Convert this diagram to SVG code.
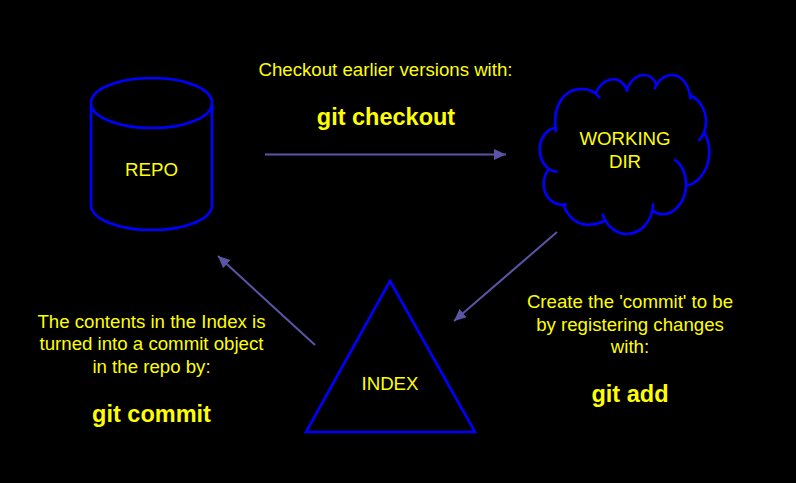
<svg xmlns="http://www.w3.org/2000/svg" width="796" height="483" viewBox="0 0 796 483">
<style>
text{font-family:"Liberation Sans",Arial,sans-serif;fill:#ffff00;font-size:18.67px;text-anchor:middle}
.b{font-weight:bold;font-size:23.5px}
.s{fill:none;stroke:#0000ff;stroke-width:2.6}
.c{fill:none;stroke:#5a55a5;stroke-width:2;marker-end:url(#a)}
</style>
<defs><marker id="a" markerUnits="userSpaceOnUse" markerWidth="14" markerHeight="12" refX="12" refY="5.500" orient="auto"><path d="M0 0L12 5.500L0 11Z" fill="#5a55a5"/></marker></defs>
<rect width="796" height="483" fill="#000"/>
<g id="connectors">
<path class="c" d="M265 154.500H506"/>
<path class="c" d="M557 232L454 321"/>
<path class="c" d="M315 345L218 256"/>
</g>
<g id="repo">
<path class="s" d="M91 103C91 89 118 78 152 78C186 78 212 89 212 103C212 117 186 128 152 128C118 128 91 117 91 103V205C91 219 118 230 152 230C186 230 212 219 212 205V103"/>
<text x="151.500" y="176">REPO</text>
</g>
<g id="working-dir">
<path class="s" d="M556 132.300C551.700 106.700 563.300 89 581.700 89C590 89 596 92.300 600 98.300M595 94.300C600 83.300 606.700 79.300 614 79.300C620 79.300 626 85 627.300 91.700M626.700 91.700C628.300 81.700 636.700 75 644 75C650 75 654.300 79.300 656 84M654.300 89.300C658.300 80 665 75 672.300 75C681.700 75 689 85 690.700 99.300M690 95C700 100 706 110 706 121.700C706 130 702.700 136.700 698.300 141M704 131.700C708.300 140 710 146.700 709.300 155C708.300 170 698.300 183.300 687.300 185.700M674 159.300C681.700 163.300 686.700 175 686 186.700C685 203.300 673.300 214.300 663.300 214.300C659.300 214.300 655 212.700 652.300 210M653.300 203.300C652.700 220 641.700 234 626.700 234C615 234 606 225 602.300 213.300M606 220C600 223.300 595 224.700 588.300 224.700C576.700 224.700 568.300 216.700 563.300 205M566.700 204.300C553.300 206.700 543.300 196.700 543.700 183.300C544 176.700 546 172.700 548.300 170M557.700 171.700C546.700 171.700 539.300 160 539.700 148.300C540 138.300 546.700 129.300 555 127.700"/>
<text x="625" y="145">WORKING</text>
<text x="625" y="168">DIR</text>
</g>
<g id="index">
<path class="s" d="M390 281L475 432H306Z"/>
<text x="390" y="390">INDEX</text>
</g>
<g id="labels">
<text x="385.500" y="76">Checkout earlier versions with:</text>
<text x="386" y="125" class="b">git checkout</text>
<text x="630" y="308">Create the 'commit' to be</text>
<text x="630" y="331">by registering changes</text>
<text x="630" y="353">with:</text>
<text x="630" y="402" class="b">git add</text>
<text x="151.500" y="328">The contents in the Index is</text>
<text x="151.500" y="350">turned into a commit object</text>
<text x="151.500" y="373">in the repo by:</text>
<text x="151.500" y="422" class="b">git commit</text>
</g>
</svg>
